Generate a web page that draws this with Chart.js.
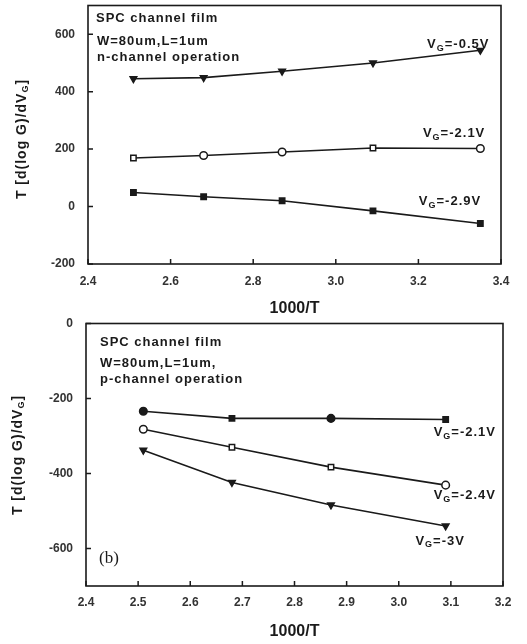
<!DOCTYPE html>
<html>
<head>
<meta charset="utf-8">
<script src="https://cdn.jsdelivr.net/npm/chart.js@4/dist/chart.umd.min.js"></script>
<style>
  body { margin: 0; background: #fff; }
  canvas { display: block; }
</style>
</head>
<body>
<canvas id="chartA" width="527" height="318"></canvas>
<canvas id="chartB" width="527" height="326"></canvas>
<script>
// panel (a): n-channel operation
const invTempA = [2.51, 2.68, 2.87, 3.09, 3.35];
const vg05 = [445, 449, 471, 500, 544];
const vg21a = [169, 178, 190, 204, 202];
const vg29 = [49, 34, 20, -15, -59];
const xTicksA = [2.4, 2.6, 2.8, 3.0, 3.2, 3.4];
const yTicksA = [-200, 0, 200, 400, 600];

// panel (b): p-channel operation
const invTempB = [2.51, 2.68, 2.87, 3.09];
const vg21b = [-234, -253, -253, -256];
const vg24 = [-282, -330, -383, -431];
const vg3 = [-338, -424, -484, -540];
const xTicksB = [2.4, 2.5, 2.6, 2.7, 2.8, 2.9, 3.0, 3.1, 3.2];
const yTicksB = [-600, -400, -200, 0];

const INK = '#1a1a1a';
const SANS = '"Liberation Sans", Arial, sans-serif';

function series(xs, ys, style, filled, rotation) {
  return {
    data: xs.map((x, i) => ({ x: x, y: ys[i] })),
    showLine: true,
    tension: 0,
    borderColor: INK,
    borderWidth: 1.6,
    pointStyle: style,
    pointRotation: rotation || 0,
    pointRadius: 3.8,
    pointBackgroundColor: filled ? INK : '#fff',
    pointBorderColor: INK,
    pointBorderWidth: 1.5
  };
}

function scales(xMin, xMax, xTicks, yMin, yMax, yTicks, yWidth, xHeight, xPad, titlePad) {
  return {
    x: {
      type: 'linear', min: xMin, max: xMax,
      afterBuildTicks: s => { s.ticks = xTicks.map(v => ({ value: v })); },
      afterFit: s => { s.height = xHeight; },
      grid: { display: false, drawTicks: false },
      border: { display: false },
      ticks: {
        padding: xPad, color: '#333', autoSkip: false, maxRotation: 0,
        font: { family: SANS, size: 12, weight: 'bold' },
        callback: v => Number(v).toFixed(1)
      },
      title: {
        display: true, text: '1000/T', color: INK,
        font: { family: SANS, size: 16, weight: 'bold' },
        padding: { top: 0, bottom: titlePad }
      }
    },
    y: {
      type: 'linear', min: yMin, max: yMax,
      afterBuildTicks: s => { s.ticks = yTicks.map(v => ({ value: v })); },
      afterFit: s => { s.width = yWidth; s.paddingTop = 0; s.paddingBottom = 0; },
      grid: { display: false, drawTicks: false },
      border: { display: false },
      ticks: { padding: 13, color: '#333', font: { family: SANS, size: 12, weight: 'bold' } }
    }
  };
}

function vgLabel(ctx, x, y, tail) {
  ctx.font = 'bold 13px ' + SANS;
  ctx.fillText('V', x, y);
  x += ctx.measureText('V').width;
  ctx.font = 'bold 9px ' + SANS;
  ctx.fillText('G', x, y + 4);
  x += ctx.measureText('G').width;
  ctx.font = 'bold 13px ' + SANS;
  ctx.fillText('=' + tail, x, y);
}

// frame, inner tick marks, y title and the text notes
const decor = {
  id: 'decor',
  beforeDatasetsDraw(chart, args, opts) {
    const { ctx, chartArea: a, scales: { x, y } } = chart;
    ctx.save();
    ctx.strokeStyle = INK;
    ctx.lineWidth = 1.6;
    ctx.strokeRect(a.left, a.top, a.right - a.left, a.bottom - a.top);
    ctx.lineWidth = 1.5;
    ctx.beginPath();
    x.ticks.forEach(t => {
      const px = x.getPixelForValue(t.value);
      ctx.moveTo(px, a.bottom); ctx.lineTo(px, a.bottom - 5);
    });
    y.ticks.forEach(t => {
      const py = y.getPixelForValue(t.value);
      ctx.moveTo(a.left, py); ctx.lineTo(a.left + 5, py);
    });
    ctx.stroke();
    ctx.restore();
  },
  afterDraw(chart, args, opts) {
    const { ctx, chartArea: a, scales: { x, y } } = chart;
    ctx.save();
    ctx.fillStyle = INK;
    ctx.textBaseline = 'middle';
    ctx.textAlign = 'left';
    ctx.letterSpacing = '1px';

    // rotated y-axis title with subscript
    ctx.translate(opts.titleX, opts.titleY);
    ctx.rotate(-Math.PI / 2);
    const main = 'bold 14px ' + SANS, sub = 'bold 9px ' + SANS;
    ctx.font = main;
    const w1 = ctx.measureText('T [d(log G)/dV').width;
    const w3 = ctx.measureText(']').width;
    ctx.font = sub;
    const w2 = ctx.measureText('G').width;
    let tx = -(w1 + w2 + w3) / 2;
    ctx.font = main; ctx.fillText('T [d(log G)/dV', tx, 0); tx += w1;
    ctx.font = sub; ctx.fillText('G', tx, 4); tx += w2;
    ctx.font = main; ctx.fillText(']', tx, 0);
    ctx.setTransform(1, 0, 0, 1, 0, 0);

    ctx.font = 'bold 13px ' + SANS;
    opts.lines.forEach(l => ctx.fillText(l.text, a.left + l.dx, a.top + l.dy));
    opts.vg.forEach(l => vgLabel(ctx, x.getPixelForValue(l.x), y.getPixelForValue(l.y), l.text));
    if (opts.tag) {
      ctx.letterSpacing = '0px';
      ctx.font = '17px "Liberation Serif", "Times New Roman", serif';
      ctx.fillText(opts.tag.text, a.left + opts.tag.dx, a.top + opts.tag.dy);
    }
    ctx.restore();
  }
};

const common = {
  type: 'scatter',
  plugins: [decor]
};

new Chart(document.getElementById('chartA'), {
  ...common,
  data: {
    datasets: [
      series(invTempA, vg05, 'triangle', true, 180),
      series(invTempA, vg21a, ['rect', 'circle', 'circle', 'rect', 'circle'], false),
      series(invTempA, vg29, 'rect', true)
    ]
  },
  options: {
    responsive: false, animation: false, devicePixelRatio: 1,
    layout: { padding: { left: 0, right: 26, top: 4, bottom: 0 } },
    scales: scales(2.4, 3.4, xTicksA, -200, 700, yTicksA, 88, 54, 10, 0),
    plugins: {
      legend: { display: false }, tooltip: { enabled: false },
      decor: {
        titleX: 22, titleY: 139,
        lines: [
          { text: 'SPC channel film', dx: 8, dy: 13 },
          { text: 'W=80um,L=1um', dx: 9, dy: 36 },
          { text: 'n-channel operation', dx: 9, dy: 52 }
        ],
        vg: [
          { text: '-0.5V', x: 3.221, y: 565 },
          { text: '-2.1V', x: 3.211, y: 253 },
          { text: '-2.9V', x: 3.201, y: 18 }
        ]
      }
    }
  }
});

new Chart(document.getElementById('chartB'), {
  ...common,
  data: {
    datasets: [
      series(invTempB, vg21b, ['circle', 'rect', 'circle', 'rect'], true),
      series(invTempB, vg24, ['circle', 'rect', 'rect', 'circle'], false),
      series(invTempB, vg3, 'triangle', true, 180)
    ]
  },
  options: {
    responsive: false, animation: false, devicePixelRatio: 1,
    layout: { padding: { left: 0, right: 24, top: 5, bottom: 0 } },
    scales: scales(2.4, 3.2, xTicksB, -700, 0, yTicksB, 86, 58, 9, 3),
    plugins: {
      legend: { display: false }, tooltip: { enabled: false },
      decor: {
        titleX: 18, titleY: 137,
        lines: [
          { text: 'SPC channel film', dx: 14, dy: 19 },
          { text: 'W=80um,L=1um,', dx: 14, dy: 40 },
          { text: 'p-channel operation', dx: 14, dy: 56 }
        ],
        vg: [
          { text: '-2.1V', x: 3.067, y: -290 },
          { text: '-2.4V', x: 3.067, y: -458 },
          { text: '-3V', x: 3.032, y: -580 }
        ],
        tag: { text: '(b)', dx: 13, dy: 235 }
      }
    }
  }
});
</script>
</body>
</html>
